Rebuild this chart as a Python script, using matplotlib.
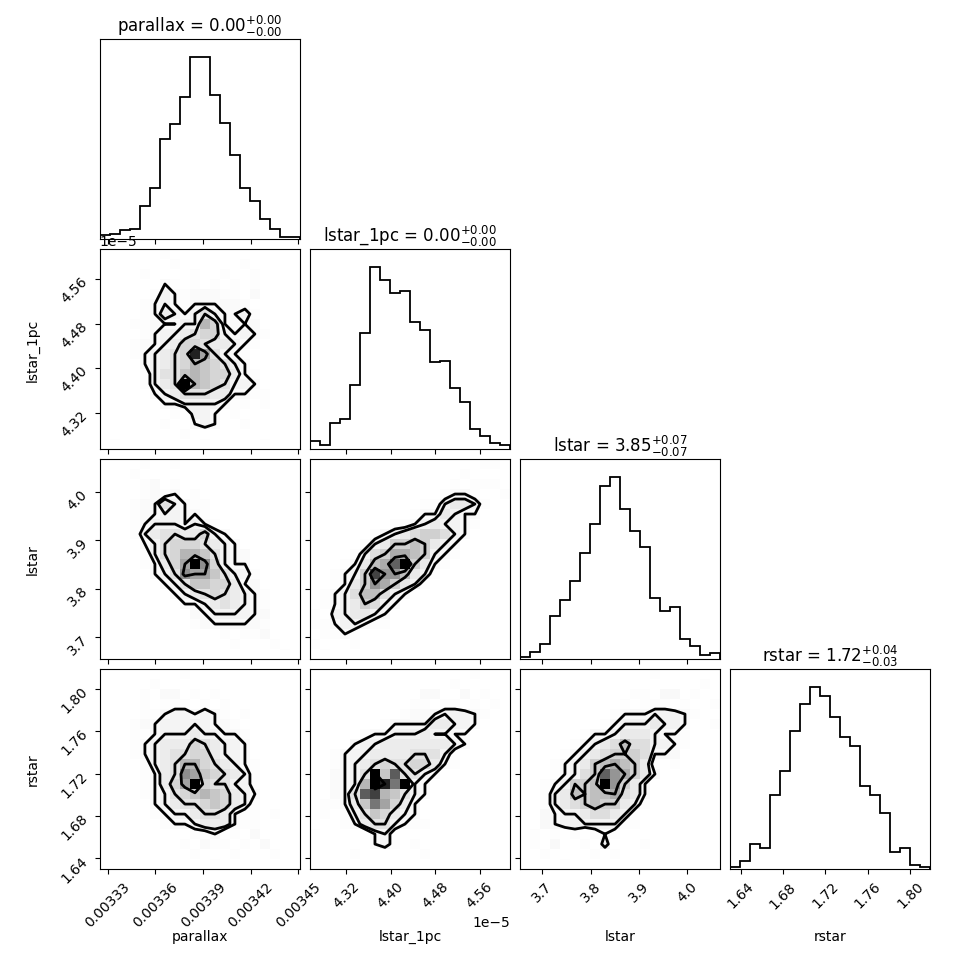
import numpy as np
import matplotlib
matplotlib.use("Agg")
import matplotlib.pyplot as plt
from matplotlib.colors import LinearSegmentedColormap

# parameters, summary numbers and plot ranges
labels = ["parallax", "lstar_1pc", "lstar", "rstar"]
medians = ["0.00", "0.00", "3.85", "1.72"]
err_lo = ["0.00", "0.00", "0.07", "0.03"]
err_hi = ["0.00", "0.00", "0.07", "0.04"]
ranges = [(0.003325, 0.003451), (4.2546e-5, 4.6146e-5), (3.654, 4.068), (1.630, 1.8186)]
ticks = [[0.00333, 0.00336, 0.00339, 0.00342, 0.00345],
         [4.32e-5, 4.40e-5, 4.48e-5, 4.56e-5],
         [3.7, 3.8, 3.9, 4.0],
         [1.64, 1.68, 1.72, 1.76, 1.80]]

# 1d histograms (20 bins, relative heights)
hist_parallax = [2, 3, 5, 5.5, 18, 28, 55, 63, 78, 100, 100, 79, 64, 46, 28, 21, 11, 5.5, 1.3, 1.3]
hist_lstar_1pc = [4.6, 2.2, 14.3, 16.5, 35, 64, 100, 92.7, 85.7, 87, 70, 65.5, 47.7, 48.6, 33.4, 26, 11, 7.3, 3.3, 2.2]
hist_lstar = [1, 3.7, 8.3, 23.5, 32.5, 42.8, 58.3, 74, 95.4, 100, 82.6, 70.3, 61.5, 33.4, 26.2, 28.4, 11, 7, 2.2, 3.1]
hist_rstar = [1, 4.6, 13.8, 11.4, 40.7, 54, 75.8, 90.6, 100, 95.4, 83.9, 72.5, 67.9, 45.9, 40.9, 31, 9.5, 11.4, 2.2, 1]

# 2d histograms, 20x20 counts (hex digits), top row = highest y bin
grid_parallax_lstar1pc = [
    "......1.............",
    ".......1......1.....",
    "....1....1..1..1....",
    "......21.1.1.1.1....",
    ".....132122211.2....",
    "....12321222221.....",
    "....124323532231....",
    "...1122233862222....",
    "....1233456632321...",
    "...1223466544321....",
    "...123456e95321.....",
    "....23456876532.....",
    "....135578766421....",
    "....1345f8765332....",
    ".....234555442211...",
    "......223333211.1...",
    ".......1.332.1......",
    "......1..232..1.....",
    "........1...........",
    ".1........1.....1...",
]
grid_parallax_lstar = [
    "....1..1............",
    "...1................",
    "....12.1............",
    "....1212.1..........",
    "...12253211.........",
    "...12233221.........",
    "...123332321........",
    "...1345544632.......",
    "....2356665432......",
    "....13568875322.....",
    "....12469fa6322.....",
    ".....235a9975331....",
    "......2357766422....",
    ".......2345654321...",
    "........223454321...",
    ".........22333322...",
    ".........12222221...",
    "............1.112...",
    ".............1...1..",
    "..................1.",
]
grid_lstar1pc_lstar = [
    ".................11.",
    "...............1....",
    "..............1.111.",
    ".............1221..1",
    "...........1134431..",
    "..........1224322...",
    "........112343321...",
    "......1234566532....",
    ".....1346676432.....",
    "....13568876321.....",
    "...12478be6421......",
    "..1236c997431.......",
    "..1246986431........",
    ".123577532..........",
    ".12346532...........",
    "1.334432............",
    "11233211............",
    ".1121...............",
    "1...1...............",
    ".1..................",
]
grid_parallax_rstar = [
    "........1...........",
    ".....1..............",
    "....1.22.1.1........",
    "....1.111.1.1.......",
    "....112332321.1.....",
    "...12233333221......",
    "...112333433221.....",
    "...123444654332.....",
    "...123455664332.....",
    "....134588654321....",
    "....1245a9765431....",
    "....12469f655331....",
    "....123567876432....",
    ".....23455676431....",
    ".....12334554211.1..",
    "......1223444211....",
    ".........112.1.2....",
    "........1.211.1.2...",
    ".........1...1...1..",
    "...........1........",
]
grid_lstar1pc_rstar = [
    "................1...",
    "..............1.....",
    "...........22..2.1..",
    "..........11.11.1.1.",
    ".........122233321..",
    ".......1222244332...",
    ".....12233343322....",
    "....233444444432....",
    "..1233444455531.....",
    "..1234565566421.....",
    "..2235f7c5532.......",
    "..2238febf32........",
    "..225cd87532........",
    ".11247b9642.........",
    ".1.13576432.........",
    "...124553211........",
    "1.....231...........",
    "1.....231.1.........",
    "1...1......1........",
    "1...................",
]
grid_lstar_rstar = [
    ".............1......",
    "..................1.",
    "...........11.22.1..",
    "..........1.111.1..1",
    ".........122233321..",
    "........123334332..1",
    "......12234443221...",
    ".....123457553321...",
    "....123456665222....",
    "...12346787641.1....",
    "...12356b98642......",
    "..123667e9642.......",
    "..13476778542.......",
    "..13456766431.......",
    "..2233455431........",
    "..2233333311........",
    ".1.1.1.121..........",
    ".1.2..1.3...1.......",
    "..1....1.1..........",
    "....1...............",
]

hists = [hist_parallax, hist_lstar_1pc, hist_lstar, hist_rstar]
grids = {(1, 0): grid_parallax_lstar1pc,
         (2, 0): grid_parallax_lstar, (2, 1): grid_lstar1pc_lstar,
         (3, 0): grid_parallax_rstar, (3, 1): grid_lstar1pc_rstar, (3, 2): grid_lstar_rstar}

density_cmap = LinearSegmentedColormap.from_list("density_cmap", ["k", (1, 1, 1, 0)])
levels = 1.0 - np.exp(-0.5 * np.arange(0.5, 2.1, 0.5) ** 2)


def hist2d(ax, rows, xr, yr):
    img = np.array([[0 if c == "." else int(c, 16) for c in r] for r in rows], float)
    H = img[::-1].T                      # H[ix, iy] like np.histogram2d
    X = np.linspace(xr[0], xr[1], H.shape[0] + 1)
    Y = np.linspace(yr[0], yr[1], H.shape[1] + 1)

    # density levels enclosing given fractions of the mass
    Hflat = np.sort(H.flatten())[::-1]
    sm = np.cumsum(Hflat)
    sm /= sm[-1]
    V = np.empty(len(levels))
    for i, v0 in enumerate(levels):
        try:
            V[i] = Hflat[sm <= v0][-1]
        except IndexError:
            V[i] = Hflat[0]
    V.sort()
    m = np.diff(V) == 0
    while np.any(m):
        V[np.where(m)[0][0]] *= 1.0 - 1e-4
        m = np.diff(V) == 0
    V.sort()

    # padded grid on bin centres so contours close at the edges
    X1, Y1 = 0.5 * (X[1:] + X[:-1]), 0.5 * (Y[1:] + Y[:-1])
    H2 = H.min() + np.zeros((H.shape[0] + 4, H.shape[1] + 4))
    H2[2:-2, 2:-2] = H
    H2[2:-2, 1] = H[:, 0]
    H2[2:-2, -2] = H[:, -1]
    H2[1, 2:-2] = H[0]
    H2[-2, 2:-2] = H[-1]
    H2[1, 1] = H[0, 0]
    H2[1, -2] = H[0, -1]
    H2[-2, 1] = H[-1, 0]
    H2[-2, -2] = H[-1, -1]
    dx, dy = X1[1] - X1[0], Y1[1] - Y1[0]
    X2 = np.concatenate([X1[0] + np.array([-2, -1]) * dx, X1, X1[-1] + np.array([1, 2]) * dx])
    Y2 = np.concatenate([Y1[0] + np.array([-2, -1]) * dy, Y1, Y1[-1] + np.array([1, 2]) * dy])

    ax.pcolormesh(X, Y, H.max() - H.T, cmap=density_cmap, shading="flat",
                  antialiased=False, linewidth=0, edgecolors="none")
    ax.contour(X2, Y2, H2.T, V, colors="k", linewidths=2.0)
    ax.set_xlim(xr)
    ax.set_ylim(yr)


fig, axes = plt.subplots(4, 4, figsize=(9.7, 9.7))
fig.subplots_adjust(left=0.103, bottom=0.103, right=0.9588, top=0.9588, wspace=0.05, hspace=0.05)

K = len(labels)
for i in range(K):
    for j in range(K):
        ax = axes[i, j]
        if j > i:
            ax.set_frame_on(False)
            ax.set_xticks([])
            ax.set_yticks([])
            continue
        if i == j:
            edges = np.linspace(ranges[i][0], ranges[i][1], len(hists[i]) + 1)
            ax.stairs(hists[i], edges, color="k", linewidth=1.3)
            ax.set_xlim(ranges[i])
            ax.set_ylim(0, 1.1 * max(hists[i]))
            ax.set_yticks([])
            ax.set_title(r"%s = $%s_{-%s}^{+%s}$" % (labels[i], medians[i], err_lo[i], err_hi[i]),
                         fontsize=12)
        else:
            hist2d(ax, grids[(i, j)], ranges[j], ranges[i])
            ax.set_yticks(ticks[i])
            if j == 0:
                ax.set_ylabel(labels[i])
                ax.yaxis.set_label_coords(-0.3, 0.5)
                for l in ax.get_yticklabels():
                    l.set_rotation(45)
            else:
                ax.set_yticklabels([])
        ax.set_xticks(ticks[j])
        ax.set_xlim(ranges[j])
        if i == K - 1:
            ax.set_xlabel(labels[j])
            ax.xaxis.set_label_coords(0.5, -0.3)
            for l in ax.get_xticklabels():
                l.set_rotation(45)
        else:
            ax.set_xticklabels([])

fig.savefig("out.png", dpi=100)
